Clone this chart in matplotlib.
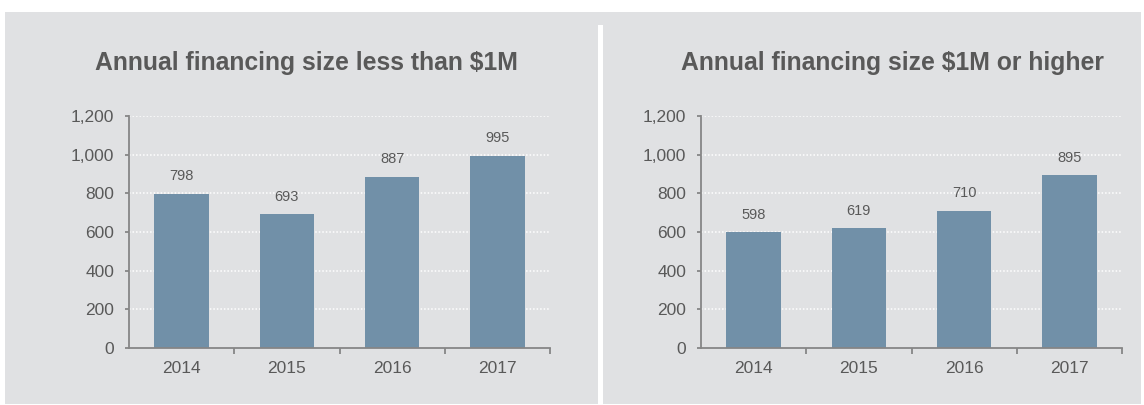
import matplotlib
matplotlib.use("Agg")
import matplotlib.pyplot as plt
from matplotlib.patches import Rectangle
from matplotlib.ticker import FuncFormatter, FixedLocator

plt.rcParams['font.family'] = ['Liberation Sans', 'DejaVu Sans']

years = ["2014", "2015", "2016", "2017"]
small_deals = [798, 693, 887, 995]
large_deals = [598, 619, 710, 895]
titles = ["Annual financing size less than $1M", "Annual financing size $1M or higher"]

W, H = 1144, 405
BG = "#e0e1e3"
BAR = "#7190a8"
TXT = "#595959"
AXC = "#868686"

fig = plt.figure(figsize=(W / 100, H / 100), dpi=100)
fig.patch.set_facecolor("white")


def fx(px):
    return px / W


def fy(py):
    return 1 - py / H


# panel backgrounds and the divider between them
fig.patches.append(Rectangle((fx(5), fy(404)), fx(1141) - fx(5), fy(12) - fy(404),
                             transform=fig.transFigure, facecolor=BG, edgecolor="none", zorder=-2))
fig.patches.append(Rectangle((fx(598), fy(405)), fx(603) - fx(598), fy(25) - fy(405),
                             transform=fig.transFigure, facecolor="white", edgecolor="none", zorder=-1))

panels = [
    (small_deals, titles[0], 129, 550, 306),
    (large_deals, titles[1], 701, 1122, 892),
]

for values, title, x0, x1, tcx in panels:
    ax = fig.add_axes([fx(x0), fy(348), fx(x1) - fx(x0), fy(116) - fy(348)])
    ax.set_zorder(2)
    ax.set_facecolor("none")
    pos = list(range(len(years)))
    ax.bar(pos, values, width=0.52, color=BAR, zorder=3)
    ax.set_xlim(-0.5, len(years) - 0.5)
    ax.set_ylim(0, 1200)
    ax.set_yticks(range(0, 1201, 200))
    ax.yaxis.set_major_formatter(FuncFormatter(lambda v, p: f"{int(v):,}"))
    for v in range(200, 1201, 200):
        ax.axhline(v, color="white", lw=1.1, ls=(0, (1, 1.3)), zorder=1)
    ax.set_xticks(pos)
    ax.set_xticklabels(years)
    ax.xaxis.set_minor_locator(FixedLocator([p + 0.5 for p in pos]))
    ax.tick_params(axis="x", which="major", length=0, pad=9.5, labelsize=12.5, labelcolor=TXT)
    ax.tick_params(axis="x", which="minor", length=4, width=1.3, color=AXC, direction="out")
    ax.tick_params(axis="y", length=3.2, width=1.3, color=AXC, pad=7.5, labelsize=12.5, labelcolor=TXT)
    for s in ["top", "right"]:
        ax.spines[s].set_visible(False)
    for s in ["left", "bottom"]:
        ax.spines[s].set_color(AXC)
        ax.spines[s].set_linewidth(1.3)
        ax.spines[s].set_zorder(4)
    for p, v in zip(pos, values):
        ax.annotate(f"{v:,}", (p, v), xytext=(0, 7.5), textcoords="offset points",
                    ha="center", va="bottom", fontsize=10.5, color=TXT)
    fig.text(fx(tcx), fy(63), title, ha="center", va="center", fontsize=17.8,
             fontweight="bold", color=TXT, zorder=3)

fig.savefig("out.png", dpi=100, facecolor=fig.get_facecolor())
